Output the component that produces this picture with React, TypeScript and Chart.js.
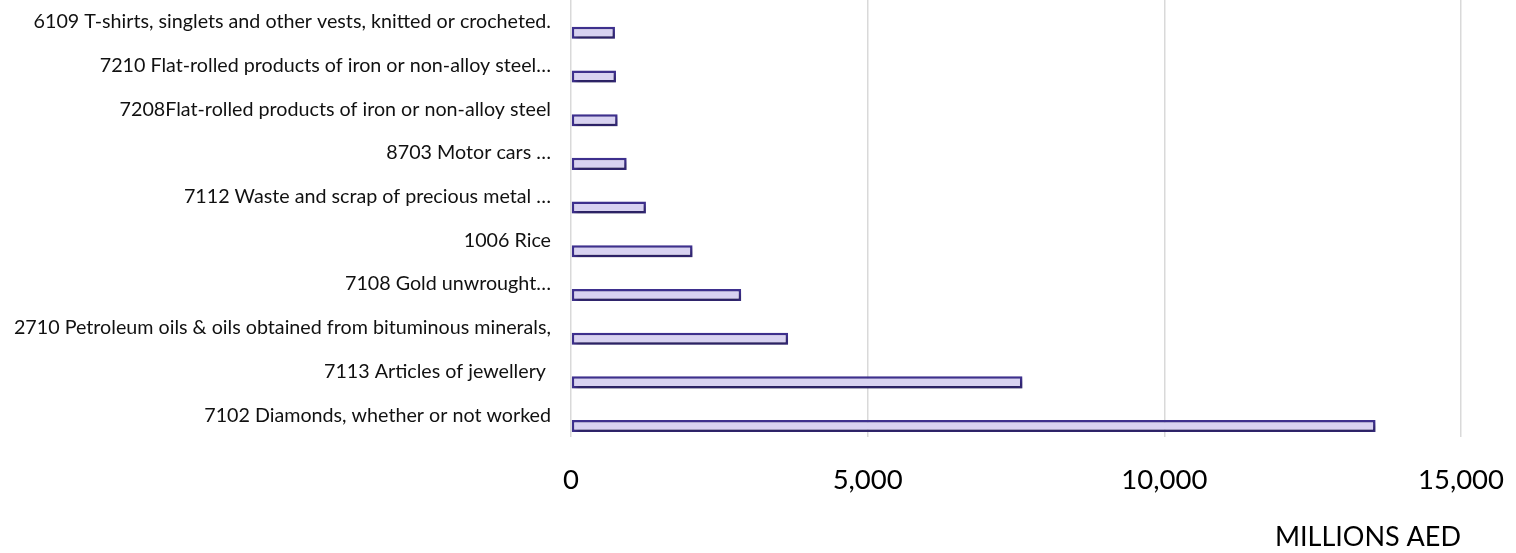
import React, { useEffect, useRef } from "react";
import { Chart, registerables } from "chart.js";

Chart.register(...registerables);

const categories = [
  "6109 T-shirts, singlets and other vests, knitted or crocheted.",
  "7210 Flat-rolled products of iron or non-alloy steel…",
  "7208Flat-rolled products of iron or non-alloy steel",
  "8703 Motor cars …",
  "7112 Waste and scrap of precious metal …",
  "1006 Rice",
  "7108 Gold unwrought…",
  "2710 Petroleum oils & oils obtained from bituminous minerals,",
  "7113 Articles of jewellery ",
  "7102 Diamonds, whether or not worked",
];

const values = [741, 758, 786, 938, 1263, 2049, 2868, 3659, 7609, 13560];

const xTicks = [0, 5000, 10000, 15000];
const axisTitle = "MILLIONS AED";

const FONT = "Lato, 'Open Sans', sans-serif";

const shadowPlugin = {
  id: "barShadow",
  beforeDatasetsDraw(chart: any) {
    const ctx = chart.ctx;
    ctx.save();
    ctx.shadowColor = "rgba(0,0,0,0.4)";
    ctx.shadowBlur = 5;
    ctx.shadowOffsetX = 2;
    ctx.shadowOffsetY = 3;
  },
  afterDatasetsDraw(chart: any) {
    chart.ctx.restore();
  },
};

const zeroPad = (s: any) => {
  s.paddingTop = 0;
  s.paddingBottom = 0;
  s.paddingLeft = 0;
  s.paddingRight = 0;
};

export default function App() {
  const ref = useRef<HTMLCanvasElement | null>(null);

  useEffect(() => {
    if (!ref.current) return;
    const chart = new Chart(ref.current, {
      type: "bar",
      data: {
        labels: categories,
        datasets: [
          {
            label: "spacer",
            data: categories.map(() => null),
          },
          {
            label: "Value",
            data: values,
            backgroundColor: (c: any) => {
              const el = c.element;
              const ch = c.chart;
              const y = el ? el.y : NaN;
              const h = el && Number.isFinite(el.height) ? el.height : 12;
              if (!Number.isFinite(y) || !ch.chartArea) return "#d8d2f1";
              const g = ch.ctx.createLinearGradient(0, y - h / 2, 0, y + h / 2);
              g.addColorStop(0, "#d6cff0");
              g.addColorStop(0.45, "#e6e2f8");
              g.addColorStop(1, "#c8c0ea");
              return g;
            },
            borderColor: "#3f3190",
            borderWidth: 2.5,
            borderSkipped: false,
          },
        ],
      },
      options: {
        indexAxis: "y",
        animation: false,
        responsive: false,
        maintainAspectRatio: false,
        layout: { padding: { left: 0, right: 55, top: 0, bottom: 0 } },
        datasets: {
          bar: { categoryPercentage: 1.0, barPercentage: 0.55 },
        },
        plugins: {
          legend: { display: false },
          tooltip: { enabled: false },
        },
        scales: {
          x: {
            min: 0,
            max: 15000,
            afterBuildTicks: (s: any) => {
              s.ticks = xTicks.map((v) => ({ value: v }));
            },
            ticks: {
              padding: 27,
              color: "#000",
              font: { family: FONT, size: 27.5 },
              callback: (v: any) => Number(v).toLocaleString("en-US"),
            },
            grid: { color: "#d9d9d9", lineWidth: 1.5, drawTicks: false },
            border: { display: false },
            title: {
              display: true,
              text: axisTitle,
              align: "end",
              color: "#000",
              font: { family: FONT, size: 27 },
              padding: { top: 24, bottom: 0 },
            },
            afterFit: (s: any) => {
              s.height = 116;
              zeroPad(s);
            },
          },
          y: {
            grid: { display: false, drawTicks: false },
            border: { display: false },
            ticks: {
              padding: 20,
              color: "#111",
              autoSkip: false,
              font: { family: FONT, size: 19.7 },
            },
            afterFit: (s: any) => {
              s.width = 571;
              zeroPad(s);
            },
          },
        },
      },
      plugins: [shadowPlugin],
    } as any);
    return () => chart.destroy();
  }, []);

  return (
    <div style={{ position: "fixed", left: 0, top: 0, width: 1516, height: 553, background: "#fff" }}>
      <canvas ref={ref} width={1516} height={553} style={{ display: "block", width: 1516, height: 553 }} />
    </div>
  );
}
